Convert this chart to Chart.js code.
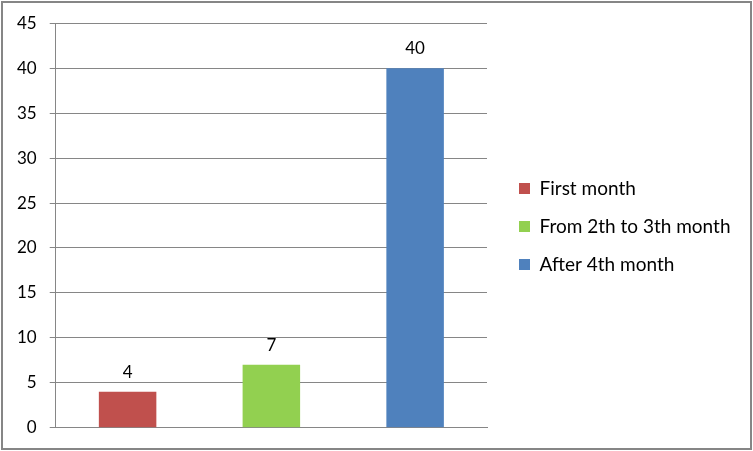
<!DOCTYPE html>
<html>
<head>
<meta charset="utf-8">
<script src="https://cdn.jsdelivr.net/npm/chart.js@4.4.0/dist/chart.umd.min.js"></script>
<style>
  html, body { margin: 0; padding: 0; background: #fff; }
  #wrap { width: 753px; height: 451px; }
</style>
</head>
<body>
<div id="wrap"><canvas id="chart" width="753" height="451"></canvas></div>
<script>
const categories = ['First month', 'From 2th to 3th month', 'After 4th month'];
const values = [4, 7, 40];
const colors = ['#C0504D', '#92D050', '#4F81BD'];
const yTicks = [0, 5, 10, 15, 20, 25, 30, 35, 40, 45];

const FONT = 'Lato, "Open Sans", sans-serif';
const LEGEND_WIDTH = 266; // ancho fijo de la leyenda (a la derecha)
const LEGEND_SHIFT_X = 13;
const LEGEND_SHIFT_Y = -3;

// etiquetas encima de cada barra + marco exterior
const extras = {
  id: 'extras',
  afterInit(chart) {
    // la leyenda por defecto se limita a 1/4 del ancho: forzamos su ancho
    const lg = chart.legend;
    const fit = lg.fit.bind(lg);
    lg.fit = function () { fit(); this.width = LEGEND_WIDTH; };
    const draw = lg.draw.bind(lg);
    lg.draw = function () {
      chart.ctx.save();
      chart.ctx.translate(LEGEND_SHIFT_X, LEGEND_SHIFT_Y);
      draw();
      chart.ctx.restore();
    };
  },
  afterDatasetsDraw(chart) {
    const ctx = chart.ctx;
    const meta = chart.getDatasetMeta(0);
    ctx.save();
    ctx.fillStyle = '#000';
    ctx.font = '17px ' + FONT;
    ctx.textAlign = 'center';
    ctx.textBaseline = 'bottom';
    meta.data.forEach((bar, i) => {
      ctx.fillText(String(values[i]), bar.x, bar.y - 11);
    });
    ctx.restore();
  },
  afterDraw(chart) {
    const ctx = chart.ctx;
    ctx.save();
    ctx.strokeStyle = '#868686';
    ctx.lineWidth = 2;
    ctx.strokeRect(2, 2, chart.width - 4, chart.height - 4);
    ctx.restore();
  }
};

new Chart(document.getElementById('chart'), {
  type: 'bar',
  data: {
    labels: categories,
    datasets: [{
      data: values,
      backgroundColor: colors,
      categoryPercentage: 1,
      barPercentage: 0.4
    }]
  },
  options: {
    responsive: false,
    animation: false,
    layout: { padding: { top: 23, left: 4, right: 0, bottom: 15 } },
    scales: {
      x: {
        ticks: { display: false },
        grid: { display: false },
        border: { color: '#868686' }
      },
      y: {
        min: 0,
        max: 45,
        afterBuildTicks(axis) { axis.ticks = yTicks.map(v => ({ value: v })); },
        ticks: { color: '#000', font: { size: 17, family: FONT }, padding: 13 },
        grid: { color: '#868686', tickLength: 6, drawTicks: true },
        border: { color: '#868686' }
      }
    },
    plugins: {
      tooltip: { enabled: false },
      legend: {
        position: 'right',
        labels: {
          color: '#000',
          font: { size: 19, family: FONT },
          boxWidth: 11,
          boxHeight: 11,
          padding: 19,
          generateLabels() {
            return categories.map((c, i) => ({
              text: c,
              fillStyle: colors[i],
              strokeStyle: colors[i],
              lineWidth: 0,
              index: i
            }));
          }
        }
      }
    }
  },
  plugins: [extras]
});
</script>
</body>
</html>
